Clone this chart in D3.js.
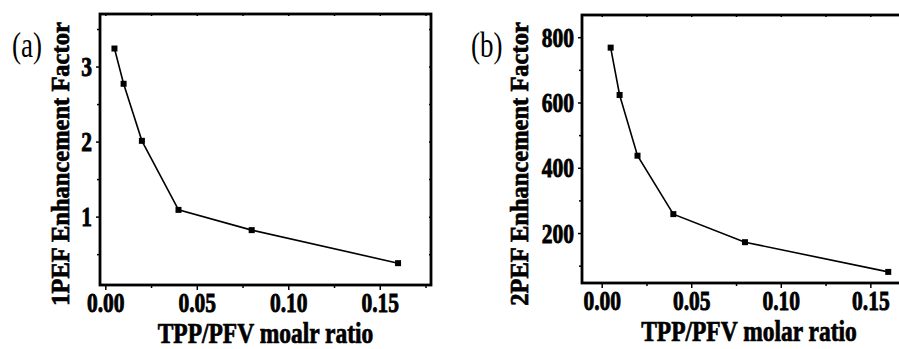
<!DOCTYPE html>
<html lang="en">
<head>
<meta charset="UTF-8">
<title>PEF Enhancement Factor vs TPP/PFV ratio</title>
<script src="https://cdnjs.cloudflare.com/ajax/libs/d3/7.8.5/d3.min.js"></script>
<style>
    body { margin: 0; background: #fff; }
    svg text { font-family: "Liberation Serif", "Times New Roman", serif; fill: #000; }
    .tick text { font-size: 21.5px; font-weight: bold; stroke: #000; stroke-width: 0.7;
        transform-box: fill-box; transform-origin: center; transform: scaleY(1.3); }
    .tick line { stroke: #000; stroke-width: 1.5; }
    .domain { display: none; }
    .axis-title { font-size: 23.5px; font-weight: bold; text-anchor: middle;
        stroke: #000; stroke-width: 0.6;
        transform-box: fill-box; transform-origin: center; transform: scaleY(1.22); }
    .y-title { font-size: 24.5px; font-weight: bold; text-anchor: middle;
        stroke: #000; stroke-width: 0.7; }
    .panel-label { font-size: 27px;
        transform-box: fill-box; transform-origin: center; transform: scaleY(1.3); }
    .frame { fill: none; stroke: #000; stroke-width: 2.8; }
    .line { fill: none; stroke: #000; stroke-width: 1.6; }
</style>
</head>
<body>
<div id="chart"></div>
<script>
    // data
    const ratio = [0.005, 0.01, 0.02, 0.04, 0.08, 0.16];
    const pef1 = [3.24, 2.77, 2.01, 1.09, 0.82, 0.38];
    const pef2 = [768, 623, 437, 258, 172, 81];

    const xTicks = [0, 0.05, 0.10, 0.15];
    const xMinor = [0.025, 0.075, 0.125, 0.175];
    const yTicksA = [1, 2, 3];
    const yMinorA = [0.5, 1.5, 2.5, 3.5];
    const yTicksB = [200, 400, 600, 800];
    const yMinorB = [100, 300, 500, 700];

    const svg = d3.select("#chart").append("svg")
        .attr("width", 899)
        .attr("height", 349);

    function drawPanel(p) {
        const g = svg.append("g").attr("transform", `translate(${p.left},${p.top})`);
        const w = p.width, h = p.height;

        const x = d3.scaleLinear().domain(p.xDomain).range([0, w]);
        const y = d3.scaleLinear().domain(p.yDomain).range([h, 0]);

        // minor ticks
        g.append("g").attr("transform", `translate(0,${h})`)
            .call(d3.axisBottom(x).tickValues(xMinor).tickSize(3).tickFormat(""));
        g.append("g")
            .call(d3.axisLeft(y).tickValues(p.yMinor).tickSize(3).tickFormat(""));

        // major ticks
        g.append("g").attr("transform", `translate(0,${h})`)
            .call(d3.axisBottom(x).tickValues(xTicks).tickSize(5).tickPadding(5)
                .tickFormat(d3.format(".2f")));
        g.append("g")
            .call(d3.axisLeft(y).tickValues(p.yTicks).tickSize(4).tickPadding(4)
                .tickFormat(d3.format("d")));

        // mirror ticks on top and right (inward)
        g.append("g")
            .call(d3.axisTop(x).tickValues(xTicks.concat(xMinor)).tickSize(-2).tickFormat(""));
        g.append("g").attr("transform", `translate(${w},0)`)
            .call(d3.axisRight(y).tickValues(p.yTicks.concat(p.yMinor)).tickSize(-2).tickFormat(""));

        g.selectAll("g[font-family]").attr("font-family", null);

        g.append("rect").attr("class", "frame")
            .attr("width", w).attr("height", h);

        const pts = ratio.map((r, i) => [r, p.values[i]]);

        g.append("path").datum(pts)
            .attr("class", "line")
            .attr("d", d3.line().x(d => x(d[0])).y(d => y(d[1])));

        g.selectAll("rect.pt").data(pts).enter().append("rect")
            .attr("class", "pt")
            .attr("x", d => x(d[0]) - 3)
            .attr("y", d => y(d[1]) - 3)
            .attr("width", 6).attr("height", 6)
            .attr("fill", "#000");

        g.append("text").attr("class", "axis-title")
            .attr("x", w / 2)
            .attr("y", h + 56)
            .text(p.xTitle);

        g.append("text").attr("class", "y-title")
            .attr("transform", `translate(${p.yTitleX},${p.yTitleY}) rotate(-90)`)
            .text(p.yTitle);

        svg.append("text").attr("class", "panel-label")
            .attr("x", p.labelX).attr("y", 54)
            .text(p.label);
    }

    drawPanel({
        left: 100, top: 14, width: 331, height: 271,
        xDomain: [-0.0029, 0.178], yDomain: [0.089, 3.70],
        yTicks: yTicksA, yMinor: yMinorA, values: pef1,
        xTitle: "TPP/PFV moalr ratio", yTitle: "1PEF Enhancement Factor",
        yTitleX: -31, yTitleY: 150, label: "(a)", labelX: 12
    });

    drawPanel({
        left: 582, top: 15, width: 334, height: 268,
        xDomain: [-0.011, 0.1755], yDomain: [47, 868],
        yTicks: yTicksB, yMinor: yMinorB, values: pef2,
        xTitle: "TPP/PFV molar ratio", yTitle: "2PEF Enhancement Factor",
        yTitleX: -54, yTitleY: 149, label: "(b)", labelX: 471
    });
</script>
</body>
</html>
